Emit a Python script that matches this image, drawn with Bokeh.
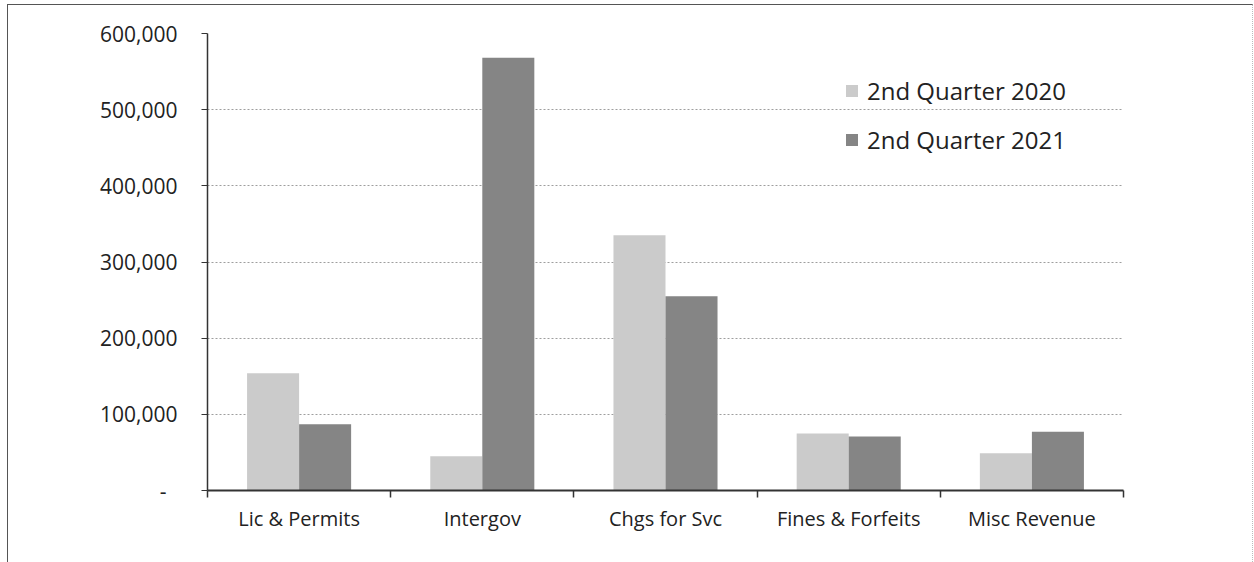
from bokeh.plotting import figure
from bokeh.models import (FixedTicker, CustomJSTickFormatter, Legend, LegendItem,
                          ColumnDataSource)
from bokeh.transform import dodge
from bokeh.embed import file_html
from bokeh.resources import INLINE

# ---- data ----
categories = ["Lic & Permits", "Intergov", "Chgs for Svc", "Fines & Forfeits", "Misc Revenue"]
series_names = ["2nd Quarter 2020", "2nd Quarter 2021"]
q2_2020 = [154000, 45000, 335000, 75000, 49000]
q2_2021 = [87000, 568000, 255000, 71000, 77000]
y_ticks = [0, 100000, 200000, 300000, 400000, 500000, 600000]

# ---- styles ----
FONT = "Open Sans"
LIGHT = "#cbcbcb"
DARK = "#858585"
bar_w = 0.284

centers = [i + 0.5 for i in range(len(categories))]
bounds = list(range(len(categories) + 1))
src = ColumnDataSource(dict(c=centers, a=q2_2020, b=q2_2021))

p = figure(frame_width=916, frame_height=457,
           min_border_left=199, min_border_right=129,
           min_border_top=28, min_border_bottom=72,
           x_range=(0, len(categories)), y_range=(0, 600000),
           output_backend="svg", toolbar_location=None)
p.outline_line_color = None
p.background_fill_color = "white"
p.border_fill_color = "white"
p.styles = {"margin-left": "7px", "margin-top": "4px",
            "border-left": "1px solid #555555", "border-top": "1px solid #555555",
            "border-right": "1px dotted #bbbbbb"}

r1 = p.vbar(x=dodge("c", -bar_w / 2, range=p.x_range), top="a", width=bar_w,
            source=src, fill_color=LIGHT, line_color=None)
r2 = p.vbar(x=dodge("c", bar_w / 2, range=p.x_range), top="b", width=bar_w,
            source=src, fill_color=DARK, line_color=None)

# grid
p.xgrid.grid_line_color = None
p.ygrid.ticker = FixedTicker(ticks=y_ticks)
p.ygrid.grid_line_color = "#9e9e9e"
p.ygrid.grid_line_dash = "2 2"
p.ygrid.grid_line_width = 1

# y axis
ya = p.yaxis[0]
ya.ticker = FixedTicker(ticks=y_ticks)
ya.formatter = CustomJSTickFormatter(
    code="return tick == 0 ? '-\u00a0\u00a0' : Math.round(tick).toLocaleString('en-US');")
ya.axis_line_color = "#333333"
ya.axis_line_width = 1.5
ya.major_tick_out = 6
ya.major_tick_in = 0
ya.major_tick_line_color = "#333333"
ya.minor_tick_line_color = None
ya.major_label_standoff = 24
ya.major_label_text_font = FONT
ya.major_label_text_font_size = "21px"
ya.major_label_text_color = "#222222"

# x axis: labels at centres, ticks at boundaries
xa = p.xaxis[0]
xa.ticker = FixedTicker(ticks=centers, minor_ticks=bounds)
xa.formatter = CustomJSTickFormatter(args=dict(cats=categories),
                                     code="return cats[Math.floor(tick)];")
xa.axis_line_color = "#333333"
xa.axis_line_width = 2
xa.major_tick_out = 0
xa.major_tick_in = 0
xa.minor_tick_out = 7
xa.minor_tick_in = 0
xa.minor_tick_line_color = "#333333"
xa.minor_tick_line_width = 1.5
xa.major_label_standoff = 7
xa.major_label_text_font = FONT
xa.major_label_text_font_size = "20px"
xa.major_label_text_color = "#222222"

legend = Legend(items=[LegendItem(label=series_names[0], renderers=[r1]),
                       LegendItem(label=series_names[1], renderers=[r2])],
                location=(637, 334), orientation="vertical",
                glyph_width=15, glyph_height=15, label_standoff=8,
                padding=0, margin=0, spacing=16,
                border_line_alpha=0, background_fill_alpha=0,
                label_text_font=FONT, label_text_font_size="24px",
                label_text_color="#222222")
p.add_layout(legend, "center")

open("out.html", "w").write(file_html(p, INLINE))
